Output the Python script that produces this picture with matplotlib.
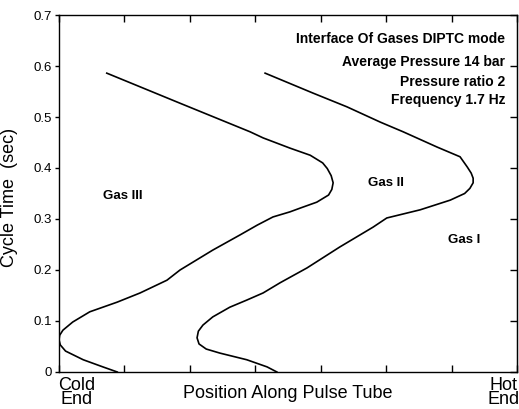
import matplotlib
matplotlib.use("Agg")
import matplotlib.pyplot as plt
import matplotlib.transforms as mtransforms

plt.rcParams['font.family'] = ['Liberation Sans', 'DejaVu Sans']

# interface Gas III / Gas II (posicao, tempo)
left_x = [0.73, 1.85, 2.92, 3.12, 3.53, 3.84, 4.03, 4.10, 4.16, 4.19, 4.17,
          4.12, 3.94, 3.70, 3.53, 3.27, 3.03, 2.77, 2.35, 1.85, 1.65, 1.24,
          0.89, 0.47, 0.21, 0.06, 0.01, 0.0, 0.02, 0.10, 0.37, 0.67, 0.89]
left_y = [0.586, 0.527, 0.471, 0.459, 0.439, 0.425, 0.410, 0.399, 0.385, 0.371,
          0.358, 0.347, 0.333, 0.322, 0.314, 0.304, 0.288, 0.269, 0.239, 0.200,
          0.180, 0.155, 0.137, 0.118, 0.098, 0.082, 0.072, 0.063, 0.053, 0.041,
          0.024, 0.010, 0.0]

# interface Gas II / Gas I
right_x = [3.15, 3.88, 4.40, 4.91, 5.26, 5.78, 6.13, 6.24, 6.30, 6.33, 6.33,
           6.28, 6.20, 5.98, 5.52, 5.01, 4.80, 4.29, 3.79, 3.38, 3.12, 2.87,
           2.61, 2.35, 2.20, 2.13, 2.11, 2.14, 2.25, 2.46, 2.87, 3.18, 3.33]
right_y = [0.586, 0.547, 0.520, 0.490, 0.471, 0.441, 0.422, 0.402, 0.390, 0.380,
           0.371, 0.360, 0.350, 0.337, 0.318, 0.302, 0.284, 0.245, 0.204, 0.175,
           0.155, 0.141, 0.127, 0.108, 0.092, 0.080, 0.067, 0.055, 0.045, 0.037,
           0.024, 0.010, 0.0]

y_ticks = [0, 0.1, 0.2, 0.3, 0.4, 0.5, 0.6, 0.7]
y_labels = ["0", "0.1", "0.2", "0.3", "0.4", "0.5", "0.6", "0.7"]

info = ["Interface Of Gases DIPTC mode", "Average Pressure 14 bar",
        "Pressure ratio 2", "Frequency 1.7 Hz"]
info_y = [0.653, 0.608, 0.569, 0.533]

gas_names = ["Gas III", "Gas II", "Gas I"]
gas_x = [0.98, 5.0, 6.19]
gas_y = [0.345, 0.371, 0.259]

fig = plt.figure(figsize=(5.19, 4.09), dpi=100)
ax = fig.add_axes([0.1137, 0.0905, 0.9961 - 0.1137, 0.9633 - 0.0905])

ax.plot(left_x, left_y, "k", lw=1.2)
ax.plot(right_x, right_y, "k", lw=1.2)

ax.set_xlim(0, 7)
ax.set_ylim(0, 0.7)
ax.set_xticks(range(8))
ax.set_xticklabels([])
ax.set_yticks(y_ticks)
ax.set_yticklabels(y_labels, fontsize=9.5)
ax.tick_params(axis="x", direction="in", length=5, top=True, width=1)
ax.tick_params(axis="y", direction="out", length=3, width=1, pad=2)
for s in ax.spines.values():
    s.set_linewidth(1.0)

# ticks do lado direito para dentro
ax2 = ax.secondary_yaxis("right")
ax2.set_yticks(y_ticks)
ax2.set_yticklabels([])
ax2.tick_params(direction="in", length=5, width=1)

ax.set_ylabel("Cycle Time  (sec)", fontsize=13)
ax.yaxis.set_label_coords(-0.09, 0.49)

for txt, yy in zip(info, info_y):
    ax.text(6.82, yy, txt, ha="right", va="center", fontsize=10,
            fontweight="bold")

for nome, xx, yy in zip(gas_names, gas_x, gas_y):
    ax.text(xx, yy, nome, ha="center", va="center", fontsize=9.5,
            fontweight="bold")

# rotulos do eixo x
tr = mtransforms.blended_transform_factory(ax.transData, fig.transFigure)
ax.text(0.27, 0.040, "Cold\nEnd", transform=tr, ha="center", va="center",
        fontsize=13, linespacing=0.8)
ax.text(6.79, 0.040, "Hot\nEnd", transform=tr, ha="center", va="center",
        fontsize=13, linespacing=0.8)
ax.text(3.5, 0.039, "Position Along Pulse Tube", transform=tr, ha="center",
        va="center", fontsize=13)

fig.savefig("out.png", dpi=100)
